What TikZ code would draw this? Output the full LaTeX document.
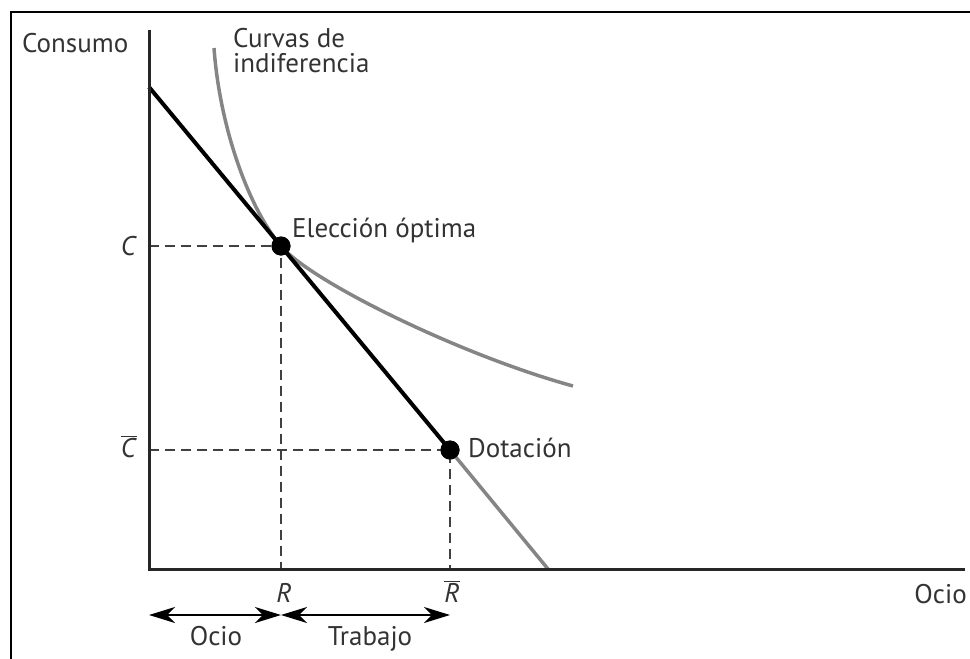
\documentclass[tikz,border=0pt]{standalone}
\usepackage{fontspec}
\setmainfont{PT Sans}
\usetikzlibrary{arrows.meta}
\begin{document}
\begin{tikzpicture}[x=1pt,y=-1pt,
  lbl/.style={font=\fontsize{27}{25}\selectfont, text=black!80, inner sep=0pt},
  dotnode/.style={circle, fill=black, minimum size=19pt, inner sep=0pt},
  axisline/.style={line width=3pt, black!85},
  budget/.style={line width=4pt, black},
  graycurve/.style={line width=3.5pt, black!48},
  guide/.style={line width=1.5pt, black!75, dash pattern=on 10pt off 6pt},
  spanarrow/.style={line width=2pt, black, {Stealth[length=26pt,width=16pt,inset=8pt]}-{Stealth[length=26pt,width=16pt,inset=8pt]}}
]
\useasboundingbox (0,0) rectangle (970,659);
% frame
\draw[line width=2pt] (11,659) -- (11,12) -- (970,12);
% key points
\coordinate (O) at (149,569);
\coordinate (ytop) at (149,30);
\coordinate (xend) at (965,569);
\coordinate (B0) at (149,87);
\coordinate (B1) at (548,569);
\coordinate (Itop) at (214,48);
\coordinate (Iend) at (573,386);
\node[dotnode] (opt) at (281,246) {};
\node[dotnode] (endw) at (450,450) {};
% guides
\draw[guide] (O |- opt) -- (opt.center) -- (opt |- O);
\draw[guide] (O |- endw) -- (endw.center) -- (endw |- O);
% indifference curve
\draw[graycurve] (Itop) .. controls (220,130) and (250,210) .. (opt.center)
  .. controls (310,281) and (460,355) .. (Iend);
% budget line
\draw[graycurve] (endw.center) -- (B1);
\draw[budget] (B0) -- (endw.center);
% axes
\draw[axisline] (ytop) -- (O) -- (xend);
% dots on top
\node[dotnode] at (opt) {};
\node[dotnode] at (endw) {};
% arrows
\coordinate (aL) at (149,615);
\coordinate (aM) at (281,615);
\coordinate (aR) at (450,615);
\draw[spanarrow] (aL) -- (aM);
\draw[spanarrow] (aM) -- (aR);
% labels
\node[lbl, anchor=base west] (lcons) at (22,52) {Consumo};
\node[lbl, anchor=base west, align=left] (lcurv) at (233,72) {Curvas de\\indiferencia};
\node[lbl, anchor=base west] (lopt) at (292,237) {Elección óptima};
\node[lbl, anchor=base west] (ldot) at (468,457) {Dotación};
\node[lbl, anchor=base] (lC) at (129,255) {\textit{C}};
\node[lbl, anchor=base] (lCb) at (129,457) {$\overline{\mbox{\textit{C}}}$};
\node[lbl, anchor=base] (lR) at (284,602) {\textit{R}};
\node[lbl, anchor=base] (lRb) at (452,602) {$\overline{\mbox{\textit{R}}}$};
\node[lbl, anchor=base] (locio) at (216,645) {Ocio};
\node[lbl, anchor=base] (ltrab) at (370,645) {Trabajo};
\node[lbl, anchor=base east] (locio2) at (967,603) {Ocio};
\end{tikzpicture}
\end{document}
